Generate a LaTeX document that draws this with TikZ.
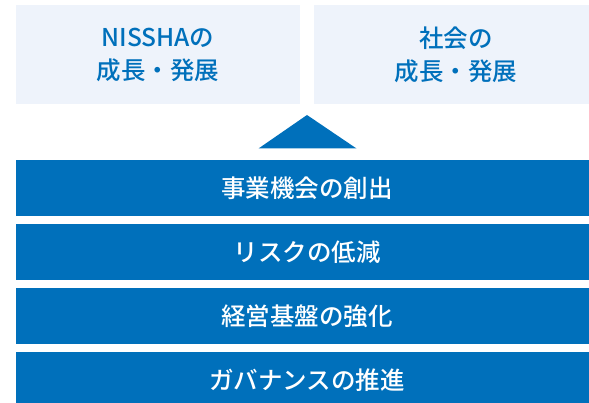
\documentclass[tikz,border=0pt]{standalone}
\usepackage{fontspec}
\newfontfamily\jpmedium{Noto Sans CJK JP Medium}
\usepackage{tikz}
\definecolor{barblue}{HTML}{0070BB}
\definecolor{paleblue}{HTML}{EEF3FB}
\tikzset{
  topbox/.style={fill=paleblue, text=barblue, minimum width=284pt, minimum height=99pt,
    inner sep=0pt, align=center, font=\jpmedium\fontsize{24.5}{33}\selectfont},
  barbox/.style={fill=barblue, text=white, minimum width=582pt, minimum height=56pt,
    inner sep=0pt, font=\jpmedium\fontsize{24.5}{28}\selectfont}
}
\begin{document}
\begin{tikzpicture}[x=1pt,y=-1pt]
\useasboundingbox (0,0) rectangle (589,403);
\clip (0,0) rectangle (589,403);
\node[topbox] (nissha) at (158,54.5) {NISSHAの\\成長・発展};
\node[topbox] (society) at (456,54.5) {社会の\\成長・発展};
\fill[barblue] (307,115) -- (258.5,148.5) -- (356.5,148.5) -- cycle;
\node[barbox] (creation) at (307,188) {事業機会の創出};
\node[barbox] (risk) at (307,252) {リスクの低減};
\node[barbox] (base) at (307,316) {経営基盤の強化};
\node[barbox] (governance) at (307,380) {ガバナンスの推進};
\end{tikzpicture}
\end{document}
